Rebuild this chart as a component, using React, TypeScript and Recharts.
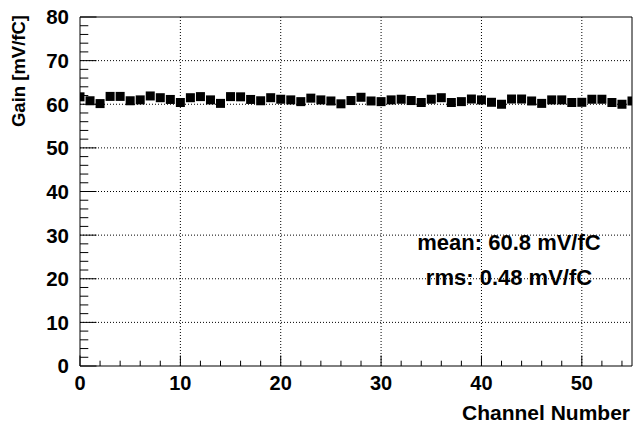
import React from 'react';
import { ScatterChart, Scatter, XAxis, YAxis, ReferenceLine, ReferenceArea, Label } from 'recharts';

const channels = [
  0, 1, 2, 3, 4, 5, 6, 7, 8, 9,
  10, 11, 12, 13, 14, 15, 16, 17, 18, 19,
  20, 21, 22, 23, 24, 25, 26, 27, 28, 29,
  30, 31, 32, 33, 34, 35, 36, 37, 38, 39,
  40, 41, 42, 43, 44, 45, 46, 47, 48, 49,
  50, 51, 52, 53, 54, 55,
];
const gains = [
  61.7, 60.8, 60.15, 61.8, 61.8, 60.8, 61.0, 61.9, 61.5, 61.1,
  60.4, 61.5, 61.75, 61.0, 60.2, 61.75, 61.7, 61.1, 60.8, 61.5,
  61.15, 61.0, 60.6, 61.4, 61.0, 60.75, 60.1, 60.85, 61.6, 60.75,
  60.6, 61.0, 61.15, 60.85, 60.4, 61.15, 61.5, 60.4, 60.6, 61.2,
  61.0, 60.45, 60.0, 61.2, 61.2, 60.75, 60.2, 61.0, 61.0, 60.4,
  60.45, 61.15, 61.15, 60.4, 60.0, 60.75,
];
const xTicks = [0, 2, 4, 6, 8, 10, 12, 14, 16, 18, 20, 22, 24, 26, 28, 30, 32, 34, 36, 38, 40, 42, 44, 46, 48, 50, 52, 54];
const yTicks = [0, 2, 4, 6, 8, 10, 12, 14, 16, 18, 20, 22, 24, 26, 28, 30, 32, 34, 36, 38, 40, 42, 44, 46, 48, 50, 52, 54, 56, 58, 60, 62, 64, 66, 68, 70, 72, 74, 76, 78, 80];
const xGrid = [10, 20, 30, 40, 50];
const yGrid = [10, 20, 30, 40, 50, 60, 70];
const xTitle = 'Channel Number';
const yTitle = 'Gain [mV/fC]';
const statLines = ['mean: 60.8 mV/fC', 'rms: 0.48 mV/fC'];

const data = channels.map((c, i) => ({ channel: c, gain: gains[i] }));

const FONT = '"Liberation Sans", Arial, Helvetica, sans-serif';
const X_MARGIN = 10;
const Y_MARGIN = 11;

const XTick = (props: any) => {
  const { x, y, payload } = props;
  const v = payload.value;
  const major = v % 10 === 0;
  const base = y - X_MARGIN;
  return (
    <g>
      <line x1={x} x2={x} y1={base} y2={base - (major ? 10.5 : 5.3)} stroke="#000" strokeWidth={1} />
      {major && (
        <text x={x} y={y} dy="0.72em" textAnchor="middle" fontFamily={FONT} fontWeight={700} fontSize={20} fill="#000">
          {v}
        </text>
      )}
    </g>
  );
};

const YTick = (props: any) => {
  const { x, y, payload } = props;
  const v = payload.value;
  const major = v % 10 === 0;
  const base = x + Y_MARGIN;
  return (
    <g>
      <line x1={base} x2={base + (major ? 16.5 : 8.3)} y1={y} y2={y} stroke="#000" strokeWidth={1} />
      {major && (
        <text x={x} y={y} dy="0.36em" textAnchor="end" fontFamily={FONT} fontWeight={700} fontSize={20.5} fill="#000">
          {v}
        </text>
      )}
    </g>
  );
};

const Square = (props: any) => {
  const { cx, cy } = props;
  if (cx == null || cy == null) return null;
  return <rect x={cx - 4.5} y={cy - 4.5} width={9} height={9} fill="#000" />;
};

export default function App() {
  return (
    <div style={{ position: 'absolute', left: 0, top: 0, background: '#fff' }}>
      <ScatterChart width={634} height={427} margin={{ top: 17, right: 2, bottom: 0, left: 0 }}>
        <XAxis
          type="number"
          dataKey="channel"
          domain={[0, 55]}
          ticks={xTicks}
          interval={0}
          tick={<XTick />}
          tickLine={false}
          axisLine={false}
          tickSize={0}
          tickMargin={X_MARGIN}
          height={61}
          allowDataOverflow
        >
          <Label
            content={(p: any) => {
              const vb = p.viewBox || {};
              return (
                <text x={vb.x + vb.width - 2} y={vb.y + 54} textAnchor="end" fontFamily={FONT} fontWeight={700} fontSize={21} fill="#000">
                  {xTitle}
                </text>
              );
            }}
          />
        </XAxis>
        <YAxis
          type="number"
          dataKey="gain"
          domain={[0, 80]}
          ticks={yTicks}
          interval={0}
          tick={<YTick />}
          tickLine={false}
          axisLine={false}
          tickSize={0}
          tickMargin={Y_MARGIN}
          width={80}
          allowDataOverflow
        >
          <Label
            content={(p: any) => {
              const vb = p.viewBox || {};
              const cx = vb.x + 18;
              const cy = vb.y - 2;
              return (
                <text
                  x={cx}
                  y={cy}
                  transform={`rotate(-90 ${cx} ${cy})`}
                  textAnchor="end"
                  dy="0.36em"
                  fontFamily={FONT}
                  fontWeight={700}
                  fontSize={18.5}
                  fill="#000"
                >
                  {yTitle}
                </text>
              );
            }}
          />
        </YAxis>
        {xGrid.map((v) => (
          <ReferenceLine key={`gx${v}`} x={v} stroke="#000" strokeDasharray="1 2" strokeWidth={1} />
        ))}
        {yGrid.map((v) => (
          <ReferenceLine key={`gy${v}`} y={v} stroke="#000" strokeDasharray="1 2" strokeWidth={1} />
        ))}
        <ReferenceArea x1={0} x2={55} y1={0} y2={80} fill="none" fillOpacity={0} stroke="#000" strokeWidth={1}>
          <Label
            content={(p: any) => {
              const vb = p.viewBox || {};
              return (
                <g>
                  {statLines.map((s, i) => (
                    <text
                      key={s}
                      x={vb.x + 429}
                      y={vb.y + 233 + i * 35}
                      textAnchor="middle"
                      fontFamily={FONT}
                      fontWeight={700}
                      fontSize={22}
                      fill="#000"
                    >
                      {s}
                    </text>
                  ))}
                </g>
              );
            }}
          />
        </ReferenceArea>
        <Scatter data={data} dataKey="gain" shape={<Square />} isAnimationActive={false} />
      </ScatterChart>
    </div>
  );
}
